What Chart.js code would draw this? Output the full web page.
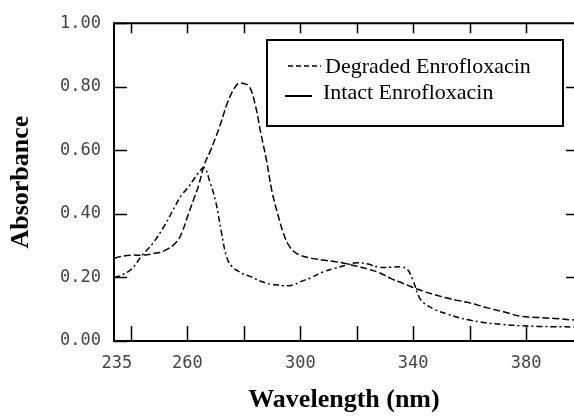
<!DOCTYPE html>
<html>
<head>
<meta charset="utf-8">
<script src="https://cdn.jsdelivr.net/npm/chart.js@4.4.1/dist/chart.umd.min.js"></script>
<style>
html, body { margin: 0; padding: 0; background: #fff; }
#wrap { width: 574px; height: 417px; }
</style>
</head>
<body>
<div id="wrap"><canvas id="myChart" width="574" height="417"></canvas></div>
<script>
// wavelength (nm) shared by both spectra
const wavelengths = [234, 236, 240, 244, 248, 252, 256, 258, 260, 262, 264, 266, 268, 270, 272, 274, 276, 278, 280, 282, 284, 286, 288, 290, 292, 294, 296, 298, 300, 304, 308, 312, 316, 320, 324, 328, 332, 336, 338, 340, 342, 344, 348, 352, 356, 360, 366, 372, 378, 384, 390, 397]
const intact = [0.26, 0.265, 0.27, 0.27, 0.275, 0.285, 0.31, 0.34, 0.39, 0.44, 0.49, 0.555, 0.595, 0.64, 0.69, 0.745, 0.785, 0.81, 0.81, 0.80, 0.745, 0.655, 0.57, 0.47, 0.40, 0.34, 0.30, 0.28, 0.27, 0.26, 0.255, 0.25, 0.244, 0.235, 0.226, 0.215, 0.197, 0.183, 0.176, 0.168, 0.162, 0.155, 0.145, 0.135, 0.127, 0.12, 0.105, 0.092, 0.078, 0.074, 0.071, 0.066]
const degraded = [0.20, 0.205, 0.225, 0.27, 0.31, 0.365, 0.43, 0.46, 0.48, 0.505, 0.53, 0.545, 0.50, 0.44, 0.345, 0.262, 0.232, 0.22, 0.21, 0.204, 0.196, 0.188, 0.182, 0.178, 0.176, 0.174, 0.174, 0.178, 0.186, 0.20, 0.217, 0.228, 0.238, 0.246, 0.242, 0.232, 0.232, 0.233, 0.225, 0.19, 0.14, 0.118, 0.098, 0.085, 0.074, 0.066, 0.057, 0.052, 0.048, 0.046, 0.045, 0.044]

const xLabels = [235, 260, 300, 340, 380]
const xTickMarks = [240, 260, 280, 300, 320, 340, 360, 380]
const yTicks = [0, 0.2, 0.4, 0.6, 0.8, 1.0]
const seriesNames = ['Degraded Enrofloxacin', 'Intact Enrofloxacin']

// axis frame + inward tick marks
const framePlugin = {
    id: 'frame',
    afterDatasetsDraw(chart) {
        const { ctx, chartArea: a, scales: { x, y } } = chart
        ctx.save()
        ctx.strokeStyle = '#000'
        ctx.lineWidth = 2
        ctx.beginPath()
        ctx.moveTo(a.right, a.top)
        ctx.lineTo(a.left, a.top)
        ctx.lineTo(a.left, a.bottom)
        ctx.lineTo(a.right, a.bottom)
        ctx.stroke()
        ctx.lineWidth = 1.5
        ctx.beginPath()
        xTickMarks.forEach(v => {
            const px = Math.round(x.getPixelForValue(v)) + 0.5
            ctx.moveTo(px, a.bottom); ctx.lineTo(px, a.bottom - 15)
            ctx.moveTo(px, a.top); ctx.lineTo(px, a.top + 10)
        })
        yTicks.forEach(v => {
            const py = Math.round(y.getPixelForValue(v)) + 0.5
            ctx.moveTo(a.left, py); ctx.lineTo(a.left + 13, py)
            if (v > 0 && v < 1) { ctx.moveTo(a.right, py); ctx.lineTo(a.right - 8, py) }
        })
        ctx.stroke()
        ctx.restore()
    }
}

// boxed legend in the upper right
const legendBox = {
    id: 'legendBox',
    afterDraw(chart) {
        const ctx = chart.ctx
        ctx.save()
        ctx.fillStyle = '#fff'
        ctx.fillRect(267, 40, 296, 86)
        ctx.strokeStyle = '#000'
        ctx.lineWidth = 2
        ctx.strokeRect(267, 40, 296, 86)
        ctx.lineWidth = 1.5
        ctx.setLineDash([5, 3])
        ctx.beginPath(); ctx.moveTo(288, 66); ctx.lineTo(321, 66); ctx.stroke()
        ctx.setLineDash([])
        ctx.lineWidth = 2
        ctx.beginPath(); ctx.moveTo(285, 96); ctx.lineTo(312, 96); ctx.stroke()
        ctx.fillStyle = '#000'
        ctx.font = "22px 'Liberation Serif'"
        ctx.textBaseline = 'alphabetic'
        ctx.fillText(seriesNames[0], 325, 73)
        ctx.fillText(seriesNames[1], 323, 99)
        ctx.restore()
    }
}

const ctx = document.getElementById('myChart')
new Chart(ctx, {
    type: 'line',
    data: {
        datasets: [{
            label: seriesNames[0],
            data: wavelengths.map((w, i) => ({ x: w, y: degraded[i] })),
            borderColor: '#000',
            borderWidth: 1.5,
            borderDash: [6, 3, 2, 3],
            pointRadius: 0,
            tension: 0.4,
            fill: false
        }, {
            label: seriesNames[1],
            data: wavelengths.map((w, i) => ({ x: w, y: intact[i] })),
            borderColor: '#000',
            borderWidth: 1.5,
            borderDash: [7, 3],
            pointRadius: 0,
            tension: 0.4,
            fill: false
        }]
    },
    options: {
        responsive: false,
        animation: false,
        devicePixelRatio: 1,
        layout: { padding: { top: 22, right: 0, left: 0, bottom: 0 } },
        plugins: { legend: { display: false }, tooltip: { enabled: false } },
        scales: {
            x: {
                type: 'linear',
                min: 234,
                max: 397,
                afterBuildTicks: s => { s.ticks = xLabels.map(v => ({ value: v })) },
                afterFit: s => { s.height = 76 },
                grid: { display: false, drawTicks: false },
                border: { display: false },
                ticks: {
                    padding: 12,
                    maxRotation: 0,
                    autoSkip: false,
                    color: '#444',
                    font: { family: 'DejaVu Sans Mono', size: 17 },
                    callback: v => String(v)
                },
                title: {
                    display: true,
                    text: 'Wavelength (nm)',
                    color: '#000',
                    font: { family: 'Liberation Serif', size: 26, weight: 'bold' },
                    padding: { top: 0, bottom: 1 }
                }
            },
            y: {
                min: 0,
                max: 1,
                afterBuildTicks: s => { s.ticks = yTicks.map(v => ({ value: v })) },
                afterFit: s => { s.width = 114 },
                grid: { display: false, drawTicks: false },
                border: { display: false },
                ticks: {
                    padding: 13,
                    color: '#444',
                    font: { family: 'DejaVu Sans Mono', size: 17 },
                    callback: v => v.toFixed(2)
                },
                title: {
                    display: true,
                    text: 'Absorbance',
                    color: '#000',
                    font: { family: 'Liberation Serif', size: 26, weight: 'bold' },
                    padding: { top: 6, bottom: 0 }
                }
            }
        }
    },
    plugins: [framePlugin, legendBox]
})
</script>
</body>
</html>
